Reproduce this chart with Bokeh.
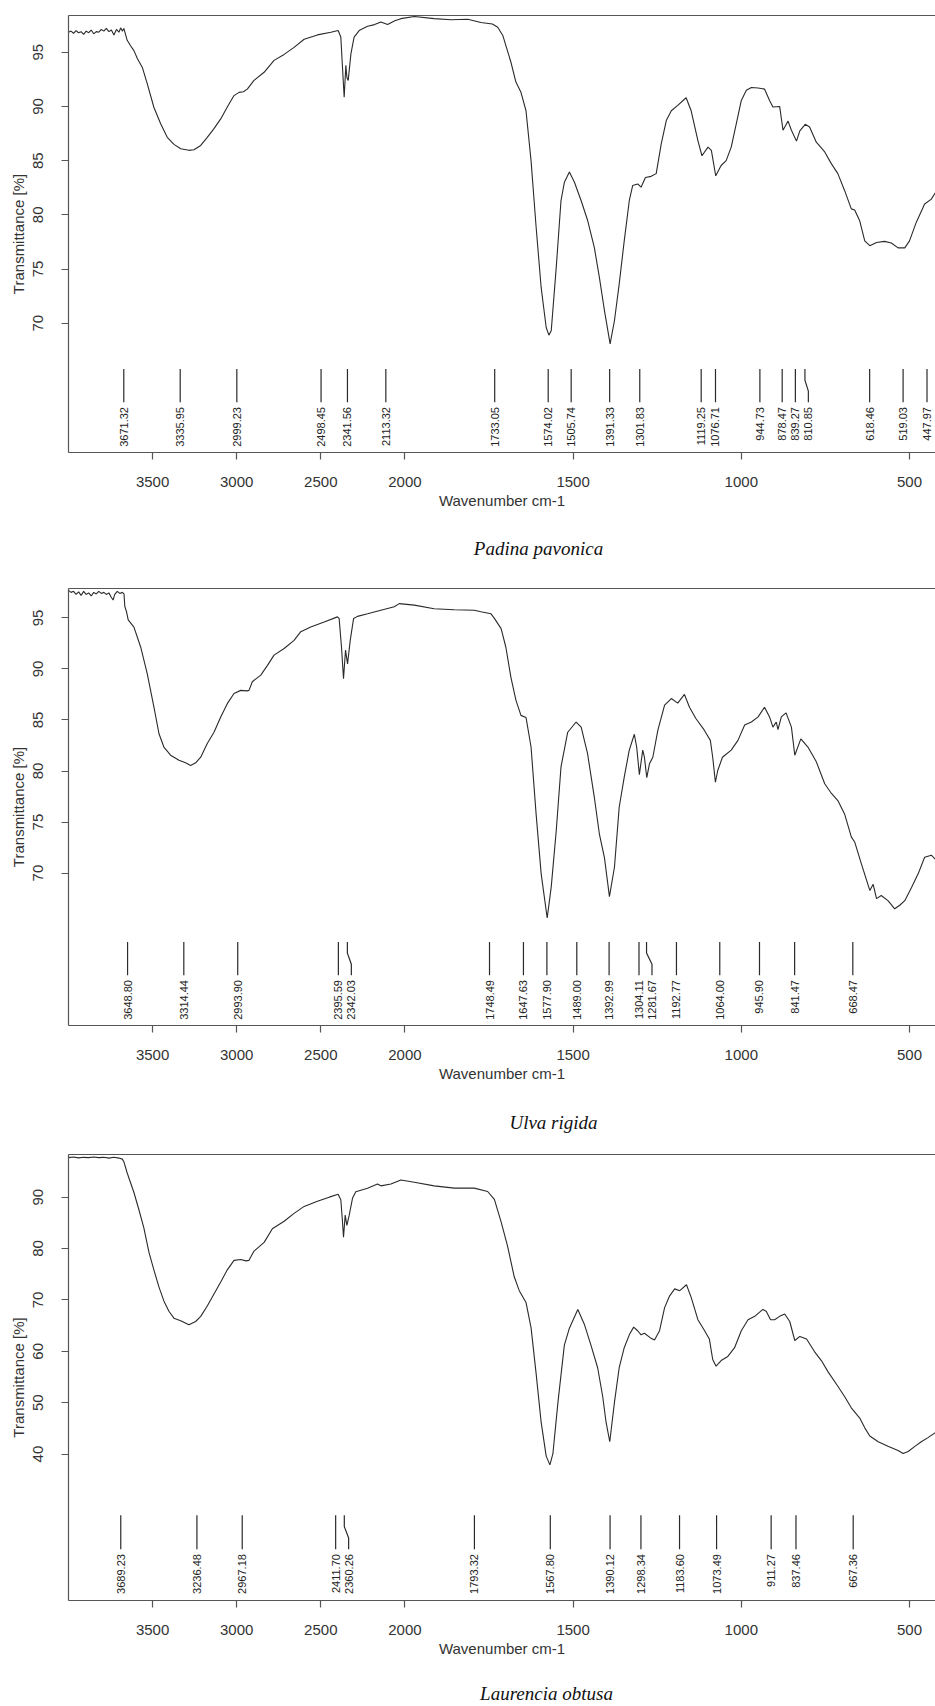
import numpy as np
from bokeh.plotting import figure
from bokeh.layouts import column
from bokeh.models import (FixedTicker, LinearAxis, Range1d,
                          CustomJSTickFormatter, ColumnDataSource)
from bokeh.core.properties import value
from bokeh.embed import file_html
from bokeh.resources import INLINE

# ---------------- data ----------------
X_TICKS = [3500, 3000, 2500, 2000, 1500, 1000, 500]

P1_NAME = "Padina pavonica"
P1_WN = [4000, 3985, 3970, 3955, 3940, 3925, 3910, 3895, 3880, 3865, 3850, 3835, 3820, 3805,
         3790, 3775, 3760, 3745, 3730, 3715, 3700, 3690, 3680, 3671, 3651, 3631, 3611, 3590,
         3561, 3532, 3492, 3452, 3413, 3373, 3333, 3284, 3254, 3214, 3175, 3135, 3095, 3056,
         3016, 2986, 2960, 2937, 2897, 2837, 2778, 2718, 2659, 2599, 2520, 2440, 2397, 2381,
         2371, 2361, 2351, 2345, 2337, 2321, 2302, 2272, 2222, 2180, 2143, 2103, 2060, 2024,
         1972, 1913, 1863, 1813, 1774, 1740, 1724, 1709, 1685, 1670, 1655, 1640, 1625, 1610,
         1595, 1580, 1572, 1565, 1550, 1536, 1526, 1511, 1496, 1476, 1457, 1437, 1422, 1407,
         1390, 1377, 1363, 1348, 1333, 1323, 1308, 1298, 1285, 1268, 1253, 1238, 1223, 1208,
         1189, 1164, 1149, 1129, 1117, 1099, 1089, 1076, 1060, 1045, 1030, 1015, 1000, 985,
         970, 950, 931, 916, 906, 886, 876, 861, 851, 836, 826, 810, 797, 777, 752, 732, 713,
         693, 673, 663, 648, 633, 618, 598, 574, 554, 534, 514, 500, 480, 455, 435, 420]
P1_T = [96.85, 96.95, 96.75, 97.0, 96.8, 96.9, 96.65, 96.95, 96.8, 97.05, 96.7, 96.9, 96.85, 97.1,
        96.95, 97.2, 96.9, 97.05, 96.6, 97.1, 96.85, 97.25, 96.95, 97.2, 96.1, 95.6, 95.15, 94.4,
        93.6, 92.1, 89.9, 88.4, 87.15, 86.5, 86.1, 85.95, 86.0, 86.4, 87.15, 87.95, 88.85, 89.95,
        91.0, 91.3, 91.35, 91.6, 92.4, 93.15, 94.25, 94.8, 95.45, 96.2, 96.6, 96.85, 97.0, 96.4,
        93.6, 90.85, 93.8, 92.7, 92.4, 94.85, 96.4, 97.0, 97.4, 97.55, 97.8, 97.55, 97.9, 98.1,
        98.3, 98.1, 98.0, 98.05, 97.75, 97.6, 97.3, 96.55, 94.1, 92.25, 91.3, 89.6, 85.0, 78.9,
        73.3, 69.6, 68.9, 69.3, 75.2, 81.3, 83.0, 83.95, 83.0, 81.3, 79.5, 77.0, 74.25, 71.2,
        68.1, 70.25, 73.6, 77.6, 81.3, 82.7, 82.85, 82.55, 83.45, 83.55, 83.8, 86.55, 88.7, 89.6,
        90.1, 90.8, 89.6, 86.85, 85.45, 86.25, 85.95, 83.6, 84.55, 85.0, 86.25, 88.4, 90.55, 91.5,
        91.75, 91.7, 91.6, 90.55, 89.95, 90.0, 87.8, 88.65, 87.8, 86.8, 87.75, 88.35, 88.1, 86.7,
        85.8, 84.7, 83.8, 82.25, 80.55, 80.45, 79.45, 77.6, 77.15, 77.45, 77.55, 77.4, 76.95,
        76.95, 77.6, 79.3, 81.0, 81.45, 82.2]
P1_PEAKS = [3671.32, 3335.95, 2999.23, 2498.45, 2341.56, 2113.32, 1733.05, 1574.02, 1505.74,
            1391.33, 1301.83, 1119.25, 1076.71, 944.73, 878.47, 839.27, 810.85, 618.46, 519.03,
            447.97]
P1_YTICKS = [70, 75, 80, 85, 90, 95]

P2_NAME = "Ulva rigida"
P2_WN = [4000, 3985, 3970, 3955, 3940, 3925, 3910, 3895, 3880, 3865, 3850, 3835, 3820, 3805,
         3790, 3775, 3760, 3745, 3735, 3725, 3710, 3695, 3680, 3670, 3665, 3655, 3645, 3611,
         3571, 3532, 3492, 3462, 3433, 3393, 3343, 3304, 3274, 3244, 3214, 3175, 3135, 3095,
         3056, 3016, 2976, 2940, 2927, 2907, 2857, 2817, 2778, 2718, 2659, 2619, 2560, 2480,
         2401, 2391, 2377, 2365, 2353, 2341, 2325, 2305, 2282, 2222, 2143, 2063, 2034, 1972,
         1913, 1853, 1794, 1774, 1744, 1734, 1714, 1700, 1685, 1670, 1655, 1640, 1625, 1610,
         1595, 1577, 1565, 1550, 1536, 1516, 1491, 1476, 1457, 1437, 1422, 1407, 1392, 1377,
         1363, 1348, 1333, 1318, 1311, 1303, 1293, 1288, 1281, 1273, 1263, 1248, 1228, 1208,
         1189, 1169, 1154, 1135, 1110, 1092, 1085, 1077, 1070, 1056, 1030, 1010, 990, 970, 950,
         931, 916, 906, 896, 891, 881, 867, 851, 841, 823, 802, 777, 752, 732, 713, 693, 673,
         663, 643, 618, 608, 598, 584, 564, 544, 529, 514, 494, 474, 455, 435, 420]
P2_T = [97.7, 97.5, 97.6, 97.3, 97.55, 97.2, 97.6, 97.3, 97.45, 97.15, 97.5, 97.35, 97.6, 97.4,
        97.5, 97.3, 97.45, 97.0, 96.75, 97.3, 97.6, 97.4, 97.5, 97.35, 96.1, 95.6, 94.8, 94.1,
        92.15, 89.55, 86.25, 83.65, 82.35, 81.55, 81.05, 80.8, 80.55, 80.8, 81.35, 82.7, 83.8,
        85.3, 86.6, 87.6, 87.9, 87.85, 87.9, 88.75, 89.4, 90.35, 91.35, 92.0, 92.8, 93.65, 94.1,
        94.6, 95.1, 94.95, 92.15, 89.05, 91.85, 90.5, 92.8, 94.95, 95.15, 95.4, 95.75, 96.1,
        96.4, 96.25, 95.9, 95.8, 95.75, 95.6, 95.4, 94.95, 93.95, 92.15, 89.2, 86.95, 85.45,
        85.25, 82.35, 75.8, 69.95, 65.6, 68.65, 74.2, 80.4, 83.8, 84.8, 84.3, 81.7, 77.45, 73.85,
        71.55, 67.7, 70.6, 76.45, 79.4, 82.05, 83.6, 82.35, 79.65, 82.05, 81.35, 79.35, 80.7,
        81.35, 84.0, 86.45, 87.1, 86.65, 87.5, 86.25, 85.15, 84.0, 83.0, 81.35, 78.9, 80.05,
        81.35, 82.05, 83.0, 84.5, 84.8, 85.3, 86.25, 85.3, 84.3, 84.8, 84.05, 85.3, 85.7, 84.3,
        81.55, 83.15, 82.35, 80.9, 78.75, 77.8, 77.1, 75.8, 73.55, 73.05, 70.9, 68.3, 68.9,
        67.5, 67.8, 67.3, 66.5, 66.85, 67.3, 68.6, 69.95, 71.55, 71.75, 71.25]
P2_PEAKS = [3648.80, 3314.44, 2993.90, 2395.59, 2342.03, 1748.49, 1647.63, 1577.90, 1489.00,
            1392.99, 1304.11, 1281.67, 1192.77, 1064.00, 945.90, 841.47, 668.47]
P2_YTICKS = [70, 75, 80, 85, 90, 95]

P3_NAME = "Laurencia obtusa"
P3_WN = [4000, 3970, 3940, 3910, 3880, 3850, 3820, 3790, 3760, 3730, 3700, 3680, 3671, 3651,
         3631, 3611, 3581, 3552, 3522, 3492, 3462, 3433, 3403, 3373, 3333, 3284, 3244, 3214,
         3175, 3135, 3095, 3056, 3016, 2976, 2945, 2927, 2897, 2837, 2788, 2718, 2659, 2599,
         2520, 2450, 2397, 2381, 2371, 2365, 2355, 2345, 2331, 2311, 2292, 2222, 2163, 2143,
         2083, 2024, 1972, 1913, 1853, 1794, 1754, 1734, 1714, 1695, 1675, 1660, 1640, 1625,
         1610, 1595, 1580, 1569, 1560, 1545, 1526, 1511, 1486, 1466, 1447, 1427, 1412, 1402,
         1391, 1377, 1363, 1348, 1333, 1320, 1308, 1298, 1288, 1270, 1258, 1243, 1228, 1213,
         1198, 1183, 1163, 1149, 1129, 1109, 1095, 1085, 1075, 1060, 1040, 1020, 1000, 980,
         960, 936, 926, 913, 901, 886, 871, 856, 841, 826, 806, 782, 762, 742, 713, 693, 673,
         648, 633, 618, 593, 564, 534, 519, 504, 484, 465, 445, 420]
P3_T = [97.7, 97.8, 97.65, 97.75, 97.7, 97.8, 97.7, 97.75, 97.6, 97.75, 97.6, 97.4, 96.9, 94.7,
        92.8, 90.9, 87.5, 84.0, 79.3, 75.8, 72.5, 69.8, 67.8, 66.45, 65.95, 65.15, 65.8, 66.8,
        68.8, 71.15, 73.5, 75.85, 77.7, 77.85, 77.6, 77.7, 79.5, 81.2, 83.85, 85.3, 86.85, 88.2,
        89.2, 90.0, 90.55, 89.5, 85.2, 82.2, 86.5, 84.5, 86.5, 89.85, 91.05, 91.75, 92.55, 92.2,
        92.55, 93.35, 92.9, 92.2, 91.75, 91.75, 91.1, 89.55, 85.2, 80.5, 74.5, 71.8, 69.5, 64.6,
        55.7, 46.2, 39.6, 37.9, 40.1, 50.1, 61.2, 64.5, 68.15, 65.15, 61.2, 56.8, 51.2, 46.2,
        42.4, 50.1, 56.8, 60.7, 63.2, 64.7, 64.0, 63.2, 63.5, 62.6, 62.2, 64.0, 68.5, 70.8,
        72.15, 71.8, 72.95, 70.5, 66.15, 64.0, 62.4, 58.4, 57.1, 58.2, 59.0, 60.7, 64.0, 66.15,
        66.8, 68.15, 67.8, 66.15, 66.15, 66.8, 67.25, 65.8, 62.1, 62.9, 62.4, 59.9, 58.2,
        56.0, 53.2, 51.2, 49.0, 47.0, 45.1, 43.5, 42.4, 41.5, 40.7, 40.1, 40.5, 41.5,
        42.4, 43.2, 44.3]
P3_PEAKS = [3689.23, 3236.48, 2967.18, 2411.70, 2360.26, 1793.32, 1567.80, 1390.12, 1298.34,
            1183.60, 1073.49, 911.27, 837.46, 667.36]
P3_YTICKS = [40, 50, 60, 70, 80, 90]

# ---------------- layout constants ----------------
FIG_W = 935
FRAME_LEFT = 68          # border left of frame (px)
PX_PER_U = 0.3364        # px per unit of the split wavenumber axis
U_END = (FIG_W - FRAME_LEFT) / PX_PER_U
INK = "#2a2a2a"
AXC = "#555555"
TXT = "#333333"


def to_u(wn):
    """OPUS-style split axis: 4000-2000 compressed 2x, 2000-400 full scale."""
    wn = np.asarray(wn, dtype=float)
    return np.where(wn >= 2000, (4000.0 - wn) / 2.0, 1000.0 + (2000.0 - wn))


FMT = CustomJSTickFormatter(code="""
    const wn = tick <= 1000 ? 4000 - 2 * tick : 2000 - (tick - 1000);
    return Math.round(wn).toString();
""")


def label_x(us, gap=38.6):
    order = np.argsort(us)
    out = np.array(us, dtype=float)
    prev = -1e9
    for i in order:
        out[i] = max(us[i], prev + gap)
        prev = out[i]
    return out


def make_panel(wn, t, peaks, yr, yticks, height, btop, bbot):
    p = figure(width=FIG_W, height=height, x_range=Range1d(0, U_END),
               y_range=Range1d(*yr), output_backend="svg", toolbar_location=None,
               min_border_left=FRAME_LEFT, min_border_right=0,
               min_border_top=btop, min_border_bottom=bbot,
               outline_line_color=None, background_fill_color="white",
               border_fill_color="white")
    p.grid.visible = False

    xa = p.xaxis[0]
    xa.ticker = FixedTicker(ticks=list(to_u(X_TICKS)))
    xa.formatter = FMT
    ya = p.yaxis[0]
    ya.ticker = FixedTicker(ticks=yticks)
    ya.major_label_orientation = "parallel"
    xa.axis_label = "Wavenumber cm-1"
    ya.axis_label = "Transmittance [%]"
    for ax in (xa, ya):
        ax.axis_line_color = AXC
        ax.axis_line_width = 1.2
        ax.major_tick_line_color = AXC
        ax.major_tick_line_width = 1.2
        ax.major_tick_out = 7
        ax.major_tick_in = 0
        ax.minor_tick_line_color = None
        ax.major_label_text_font = "Liberation Sans"
        ax.major_label_text_font_size = "15px"
        ax.major_label_text_color = TXT
        ax.axis_label_text_font = "Liberation Sans"
        ax.axis_label_text_font_size = "15px"
        ax.axis_label_text_font_style = "normal"
        ax.axis_label_text_color = TXT
    xa.major_label_standoff = 17
    xa.axis_label_standoff = 2
    ya.major_label_standoff = 18
    ya.axis_label_standoff = 4

    top = LinearAxis(ticker=FixedTicker(ticks=[]), major_tick_out=0, major_tick_in=0,
                     minor_tick_out=0, minor_tick_in=0, major_label_standoff=0,
                     major_label_text_font_size="0px", axis_line_color=AXC,
                     axis_line_width=1.2)
    p.add_layout(top, "above")

    p.line(to_u(wn), t, line_color=INK, line_width=1.1)

    y0, y1 = yr
    span = y1 - y0
    ytop = y0 + 0.191 * span
    ybot = y0 + 0.115 * span
    ylab = y0 + 0.104 * span
    us = to_u(peaks)
    uls = label_x(us)
    d = ytop - ybot
    xs = [[u, u, ul, ul] for u, ul in zip(us, uls)]
    ys = [[ytop, ytop - d / 3, ytop - 2 * d / 3, ybot] for _ in us]
    p.multi_line(xs, ys, line_color=INK, line_width=1.2)
    src = ColumnDataSource(dict(x=uls, y=[ylab] * len(uls),
                                txt=[f"{v:.2f}" for v in peaks]))
    p.text(x="x", y="y", text="txt", source=src, angle=np.pi / 2,
           text_align="right", text_baseline="middle",
           text_font=value("Liberation Sans"), text_font_size="11px",
           text_color="#222222")
    return p


def make_caption(name, height, cx, cy_from_top):
    # x and y in page pixels (frame starts at FRAME_LEFT, like the panels)
    c = figure(width=FIG_W, height=height, x_range=Range1d(FRAME_LEFT, FIG_W),
               y_range=Range1d(height, 0), output_backend="svg",
               toolbar_location=None, min_border=0, min_border_left=FRAME_LEFT,
               min_border_right=0, outline_line_color=None,
               background_fill_color="white", border_fill_color="white")
    c.axis.visible = False
    c.grid.visible = False
    c.text(x=[cx], y=[cy_from_top], text=[name], text_align="center",
           text_baseline="middle", text_font=value("Liberation Serif"),
           text_font_style="italic", text_font_size="19px", text_color="#111111")
    return c


p1 = make_panel(P1_WN, P1_T, P1_PEAKS, (58.07, 98.39), P1_YTICKS, 518, 15, 66)
c1 = make_caption(P1_NAME, 62, 538, 30)
p2 = make_panel(P2_WN, P2_T, P2_PEAKS, (55.07, 97.88), P2_YTICKS, 511, 8, 66)
c2 = make_caption(P2_NAME, 55, 553, 31)
p3 = make_panel(P3_WN, P3_T, P3_PEAKS, (11.5, 98.3), P3_YTICKS, 520, 8, 66)
c3 = make_caption(P3_NAME, 40, 546, 27)

layout = column(p1, c1, p2, c2, p3, c3, spacing=0)
open("out.html", "w").write(file_html(layout, INLINE))
